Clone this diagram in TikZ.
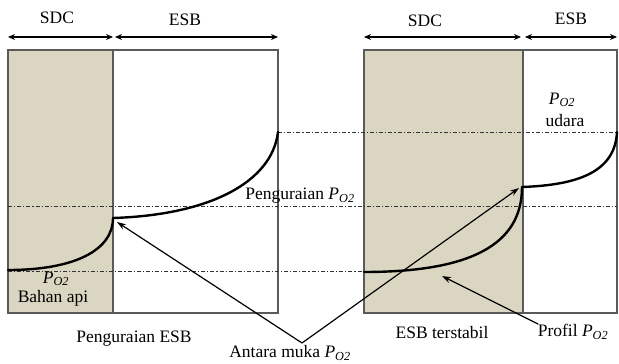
\documentclass[tikz,border=0pt]{standalone}
\usepackage{fontspec}
\setmainfont{Liberation Serif}
\usetikzlibrary{arrows.meta}
\definecolor{sdcfill}{RGB}{219,214,193}
\definecolor{boxline}{RGB}{90,90,90}
\tikzset{
  boxframe/.style={draw=boxline, line width=1.1pt},
  profile/.style={draw=black, line width=2.4pt, line cap=round},
  level/.style={draw=black!80, line width=0.9pt, dash pattern=on 4pt off 2pt on 1.2pt off 2pt},
  span/.style={draw=black, line width=1.3pt, {Stealth[length=7pt,width=6pt]}-{Stealth[length=7pt,width=6pt]}},
  pointer/.style={draw=black, line width=1.2pt, -{Stealth[length=9pt,width=6pt]}},
  lbl/.style={font=\fontsize{17.5}{20}\selectfont, inner sep=0pt},
}
\newcommand{\PO}{\textit{P}\textsubscript{\textit{O2}}}
\begin{document}
\begin{tikzpicture}[x=1pt,y=-1pt]
\useasboundingbox (0,0) rectangle (619,364);
% shaded SDC regions
\fill[sdcfill] (8,50) rectangle (113,313);
\fill[sdcfill] (364,50) rectangle (523,313);
% frames
\draw[boxframe] (8,50) rectangle (278,313);
\draw[boxframe] (113,50) -- (113,313);
\draw[boxframe] (364,50) rectangle (617,313);
\draw[boxframe] (523,50) -- (523,313);
% level lines
\draw[level] (278,132) -- (617,132);
\draw[level] (8,206) -- (617,206);
\draw[level] (8,271) -- (364,271);
% span arrows
\coordinate (a1) at (8,37); \coordinate (a2) at (113,37);
\coordinate (a3) at (115,37); \coordinate (a4) at (278,37);
\coordinate (b1) at (364,37); \coordinate (b2) at (521,37);
\coordinate (b3) at (525,37); \coordinate (b4) at (617,37);
\draw[span] (a1) -- (a2);
\draw[span] (a3) -- (a4);
\draw[span] (b1) -- (b2);
\draw[span] (b3) -- (b4);
\node[lbl] (sdc1) at (57,18) {SDC};
\node[lbl] (esb1) at (185,20) {ESB};
\node[lbl] (sdc2) at (425,21) {SDC};
\node[lbl] (esb2) at (571,19) {ESB};
% profiles
\coordinate (p0) at (8,270);
\coordinate (i1) at (113,218);
\coordinate (p1) at (278,132);
\coordinate (q0) at (364,272);
\coordinate (i2) at (522,187);
\coordinate (q1) at (617,132);
\draw[profile] (p0) .. controls (75,270) and (113,250) .. (i1);
\draw[profile] (i1) .. controls (210,215) and (272,182) .. (p1);
\draw[profile] (q0) .. controls (470,272) and (522,245) .. (i2);
\draw[profile] (i2) .. controls (578,185) and (615,172) .. (q1);
% labels
\node[lbl] (pen) at (300,196) {Penguraian \PO};
\node[lbl] (pud) at (562,100) {\PO};
\node[lbl] (uda) at (565,121) {udara};
\node[lbl] (pba) at (56,279) {\PO};
\node[lbl] (bah) at (53,298) {Bahan api};
\node[lbl] (pesb) at (134,339) {Penguraian ESB};
\node[lbl] (amu) at (290,353) {Antara muka \PO};
\node[lbl] (ester) at (442,333) {ESB terstabil};
\node[lbl] (prof) at (573,332) {Profil \PO};
% pointers
\coordinate (apex) at (302,343);
\coordinate (t1) at (117,222);
\coordinate (t2) at (519,188);
\coordinate (pr0) at (538,324);
\coordinate (pr1) at (442,276);
\draw[pointer] (apex) -- (t1);
\draw[pointer] (apex) -- (t2);
\draw[pointer] (pr0) -- (pr1);
\end{tikzpicture}
\end{document}
